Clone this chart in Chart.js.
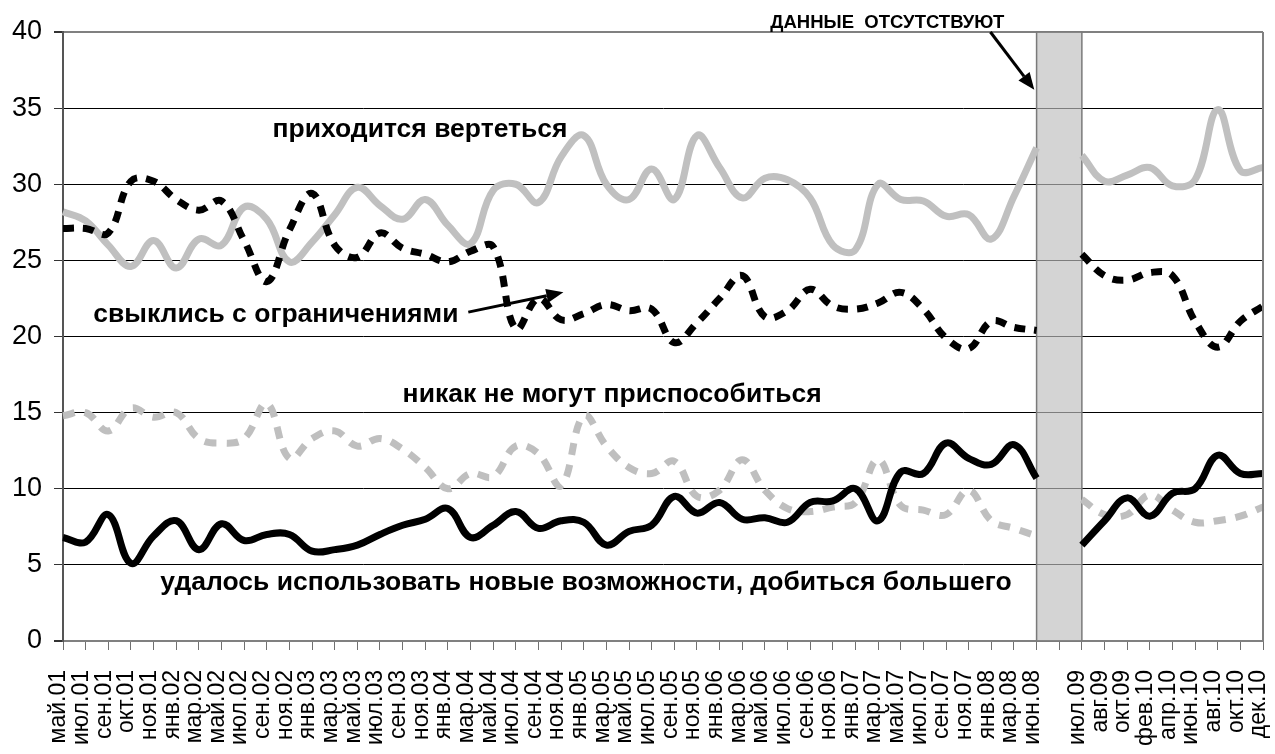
<!DOCTYPE html>
<html>
<head>
<meta charset="utf-8">
<script src="https://cdn.jsdelivr.net/npm/chart.js@4"></script>
<style>
  html, body { margin: 0; padding: 0; background: #fff; }
  canvas { display: block; }
</style>
</head>
<body>
<canvas id="chart" width="1275" height="754"></canvas>
<script>
// месяцы опросов (пустая подпись - провал в данных)
const months = [
    'май.01', 'июл.01', 'сен.01', 'окт.01', 'ноя.01', 'янв.02', 'мар.02', 'май.02', 'июл.02', 'сен.02',
    'ноя.02', 'янв.03', 'мар.03', 'май.03', 'июл.03', 'сен.03', 'ноя.03', 'янв.04', 'мар.04', 'май.04',
    'июл.04', 'сен.04', 'ноя.04', 'янв.05', 'мар.05', 'май.05', 'июл.05', 'сен.05', 'ноя.05', 'янв.06',
    'мар.06', 'май.06', 'июл.06', 'сен.06', 'ноя.06', 'янв.07', 'мар.07', 'май.07', 'июл.07', 'сен.07',
    'ноя.07', 'янв.08', 'мар.08', 'июн.08', '', 'июл.09', 'авг.09', 'окт.09', 'фев.10', 'апр.10',
    'июн.10', 'авг.10', 'окт.10', 'дек.10'
];

const vertet = [
    28.2, 27.6, 26.0, 24.6, 26.3, 24.5, 26.4, 26.0, 28.5, 27.7,
    24.9, 26.2, 28.0, 29.8, 28.6, 27.7, 29.0, 27.3, 26.1, 29.6,
    30.0, 28.8, 31.8, 33.2, 30.0, 29.0, 31.0, 29.0, 33.2, 31.1,
    29.1, 30.4, 30.3, 29.1, 26.0, 25.7, 30.0, 29.0, 28.9, 27.9,
    28.0, 26.4, 29.2, 32.4, null, 31.9, 30.2, 30.6, 31.1, 29.9,
    30.3, 34.9, 30.9, 31.1
];

const svyklis = [
    27.1, 27.1, 26.8, 30.2, 30.2, 29.0, 28.3, 28.9, 26.3, 23.6,
    27.0, 29.4, 26.0, 25.2, 26.8, 25.8, 25.4, 24.9, 25.6, 25.9,
    20.5, 22.5, 21.1, 21.5, 22.1, 21.7, 21.8, 19.6, 20.9, 22.5,
    24.0, 21.3, 21.7, 23.1, 22.0, 21.8, 22.2, 22.9, 21.8, 19.9,
    19.2, 21.0, 20.6, 20.4, null, 25.4, 24.0, 23.7, 24.2, 24.0,
    21.0, 19.3, 21.0, 22.0
];

const nikak = [
    14.8, 15.0, 13.8, 15.3, 14.7, 15.0, 13.3, 13.0, 13.3, 15.6,
    12.0, 13.3, 13.8, 12.8, 13.3, 12.6, 11.4, 10.0, 11.0, 10.8,
    12.8, 12.3, 10.2, 14.8, 12.8, 11.4, 11.0, 11.8, 9.5, 9.9,
    11.9, 9.9, 8.7, 8.5, 8.8, 9.1, 11.9, 8.9, 8.6, 8.3,
    9.9, 7.9, 7.4, 6.9, null, 9.3, 8.3, 8.3, 9.6, 8.6,
    7.8, 7.9, 8.2, 8.8
];

const udalos = [
    6.8, 6.5, 8.3, 5.1, 6.9, 7.9, 6.0, 7.7, 6.6, 7.0,
    7.0, 5.9, 6.0, 6.3, 7.0, 7.6, 8.0, 8.7, 6.8, 7.6,
    8.5, 7.4, 7.9, 7.8, 6.3, 7.2, 7.6, 9.5, 8.4, 9.1,
    8.0, 8.1, 7.8, 9.1, 9.2, 10.0, 7.9, 11.1, 11.0, 13.0,
    12.0, 11.6, 12.9, 10.7, null, 6.3, 7.9, 9.4, 8.2, 9.7,
    10.0, 12.2, 11.0, 11.0
];

// подписи на поле графика: индекс категории, значение (базовая линия текста)
const notes = [
    { text: 'приходится вертеться', i: 9.25, v: 33.1, size: 26.5 },
    { text: 'свыклись с ограничениями', i: 1.34, v: 20.95, size: 26.5 },
    { text: 'никак не могут приспособиться', i: 15.0, v: 15.7, size: 26.5 },
    { text: 'удалось использовать новые возможности, добиться большего', i: 4.3, v: 3.35, size: 26.5 },
    { text: 'ДАННЫЕ  ОТСУТСТВУЮТ', i: 31.24, v: 40.26, size: 18.5 }
];
const arrows = [
    { from: [ 17.9, 21.6 ], to: [ 22.1, 22.9 ] },
    { from: [ 40.96, 40.0 ], to: [ 42.9, 36.2 ] }
];
const gapFrom = 43, gapTo = 45;

const FONT = '"Liberation Sans", Arial, sans-serif';
Chart.defaults.font.family = FONT;

const px = ( chart, i, v ) => [ chart.scales.x.getPixelForValue( i ), chart.scales.y.getPixelForValue( v ) ];

const gapBand = {
    id: 'gapBand',
    beforeDatasetsDraw( chart ) {
        const ctx = chart.ctx, area = chart.chartArea;
        const x1 = chart.scales.x.getPixelForValue( gapFrom ),
              x2 = chart.scales.x.getPixelForValue( gapTo );
        ctx.save();
        ctx.fillStyle = 'rgba(190,190,190,0.66)';
        ctx.fillRect( x1, area.top, x2 - x1, area.bottom - area.top );
        ctx.strokeStyle = '#7a7a7a';
        ctx.lineWidth = 1.5;
        ctx.strokeRect( x1, area.top, x2 - x1, area.bottom - area.top );
        ctx.restore();
    }
};

const frame = {
    id: 'frame',
    afterDraw( chart ) {
        const ctx = chart.ctx, area = chart.chartArea;
        ctx.save();
        ctx.strokeStyle = '#808080';
        ctx.lineWidth = 2;
        ctx.beginPath();
        ctx.moveTo( area.right, area.top );
        ctx.lineTo( area.right, area.bottom );
        ctx.stroke();

        ctx.fillStyle = '#000';
        ctx.textAlign = 'left';
        ctx.textBaseline = 'alphabetic';
        notes.forEach( n => {
            const [ x, y ] = px( chart, n.i, n.v );
            ctx.font = 'bold ' + n.size + 'px ' + FONT;
            ctx.fillText( n.text, x, y );
        } );

        ctx.strokeStyle = '#000';
        ctx.lineWidth = 3;
        arrows.forEach( a => {
            const [ x1, y1 ] = px( chart, a.from[ 0 ], a.from[ 1 ] ),
                  [ x2, y2 ] = px( chart, a.to[ 0 ], a.to[ 1 ] ),
                  ang = Math.atan2( y2 - y1, x2 - x1 ),
                  len = 17, half = 7;
            const bx = x2 - len * Math.cos( ang ), by = y2 - len * Math.sin( ang );
            ctx.beginPath();
            ctx.moveTo( x1, y1 );
            ctx.lineTo( bx, by );
            ctx.stroke();
            ctx.beginPath();
            ctx.moveTo( x2, y2 );
            ctx.lineTo( bx + half * Math.sin( ang ), by - half * Math.cos( ang ) );
            ctx.lineTo( bx - half * Math.sin( ang ), by + half * Math.cos( ang ) );
            ctx.closePath();
            ctx.fill();
        } );
        ctx.restore();
    }
};

const line = ( label, data, color, dash ) => ( {
    label: label,
    data: data,
    borderColor: color,
    borderWidth: 7,
    borderDash: dash || [],
    borderCapStyle: 'butt',
    tension: 0.4,
    pointRadius: 0,
    spanGaps: false,
    fill: false
} );

new Chart( document.getElementById( 'chart' ), {
    type: 'line',
    data: {
        labels: months,
        datasets: [
            line( 'удалось использовать новые возможности, добиться большего', udalos, '#000000' ),
            line( 'свыклись с ограничениями', svyklis, '#000000', [ 11, 9 ] ),
            line( 'никак не могут приспособиться', nikak, '#bfbfbf', [ 12, 10 ] ),
            line( 'приходится вертеться', vertet, '#c0c0c0' )
        ]
    },
    options: {
        responsive: false,
        animation: false,
        devicePixelRatio: 1,
        layout: { padding: { top: 32, right: 12, left: 0, bottom: 0 } },
        plugins: {
            legend: { display: false },
            tooltip: { enabled: false }
        },
        scales: {
            x: {
                ticks: {
                    autoSkip: false,
                    minRotation: 90,
                    maxRotation: 90,
                    color: '#000',
                    font: { size: 23 },
                    padding: 20,
                    labelOffset: -4
                },
                grid: { drawOnChartArea: false, tickLength: 9, color: '#707070' },
                border: { color: '#808080', width: 2 },
                afterFit( scale ) {
                    scale.height = 113;
                    scale.paddingLeft = 0;
                    scale.paddingRight = 0;
                }
            },
            y: {
                min: 0,
                max: 40,
                ticks: { stepSize: 5, color: '#000', font: { size: 27 }, padding: 12 },
                grid: {
                    color: c => ( c.tick.value === 0 || c.tick.value === 40 ) ? '#808080' : '#000',
                    lineWidth: c => ( c.tick.value === 0 || c.tick.value === 40 ) ? 2 : 1,
                    tickLength: 9,
                    tickColor: '#333'
                },
                border: { color: '#555', width: 2 },
                afterFit( scale ) { scale.width = 63; }
            }
        }
    },
    plugins: [ gapBand, frame ]
} );
</script>
</body>
</html>
